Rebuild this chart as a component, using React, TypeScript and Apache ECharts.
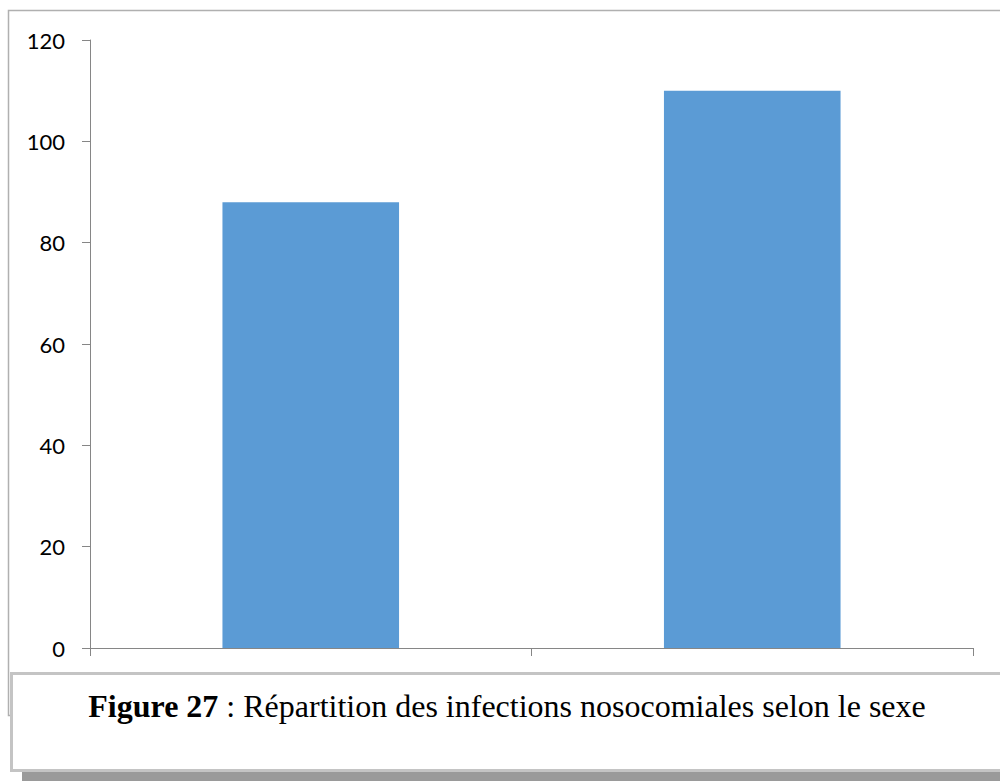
import React, { useEffect, useRef } from "react";
import * as echarts from "echarts";

const categories = ["Femme", "Homme"];
const values = [88, 110];
const yTicks = [0, 20, 40, 60, 80, 100, 120];
const captionBold = "Figure 27";
const captionRest = " : Répartition des infections nosocomiales selon le sexe";

export default function App() {
  const ref = useRef<HTMLDivElement>(null);
  useEffect(() => {
    document.body.style.margin = "0";
    const chart = echarts.init(ref.current!, null, { renderer: "svg" });
    chart.setOption({
      animation: false,
      backgroundColor: "#ffffff",
      grid: { left: 90, right: 27, top: 40, bottom: 133, containLabel: false },
      xAxis: {
        type: "category",
        data: categories,
        boundaryGap: true,
        axisLine: { show: true, lineStyle: { color: "#868686", width: 1 } },
        axisTick: { show: true, length: 8, lineStyle: { color: "#868686" } },
        axisLabel: { show: false },
      },
      yAxis: {
        type: "value",
        min: yTicks[0],
        max: yTicks[yTicks.length - 1],
        interval: 20,
        splitLine: { show: false },
        axisLine: { show: true, lineStyle: { color: "#868686", width: 1 } },
        axisTick: { show: true, length: 8, lineStyle: { color: "#868686" } },
        axisLabel: {
          margin: 25,
          color: "#000000",
          fontFamily: "Lato",
          fontSize: 22,
        },
      },
      series: [
        {
          type: "bar",
          data: values,
          barWidth: "40%",
          itemStyle: { color: "#5B9BD5" },
        },
      ],
      graphic: [
        {
          type: "rect",
          z: 100,
          shape: { x: 8.5, y: 10.5, width: 1100, height: 705 },
          style: { fill: "none", stroke: "#b0b0b0", lineWidth: 1.5 },
          silent: true,
        },
        {
          type: "rect",
          z: 101,
          shape: { x: 22, y: 683, width: 1100, height: 98 },
          style: { fill: "#9a9a9a" },
          silent: true,
        },
        {
          type: "rect",
          z: 102,
          shape: { x: 11.5, y: 673.5, width: 1100, height: 97 },
          style: { fill: "#ffffff", stroke: "#c4c4c4", lineWidth: 3 },
          silent: true,
        },
        {
          type: "text",
          z: 103,
          x: 507,
          y: 706,
          style: {
            text: "{b|" + captionBold + "}{r|" + captionRest + "}",
            align: "center",
            verticalAlign: "middle",
            fill: "#000000",
            rich: {
              b: { fontFamily: "Liberation Serif", fontWeight: "bold", fontSize: 32, fill: "#000" },
              r: { fontFamily: "Liberation Serif", fontSize: 32, fill: "#000" },
            },
          },
          silent: true,
        },
      ],
    });
    return () => chart.dispose();
  }, []);
  return (
    <div
      ref={ref}
      style={{ position: "absolute", left: 0, top: 0, width: 1000, height: 781 }}
    />
  );
}
